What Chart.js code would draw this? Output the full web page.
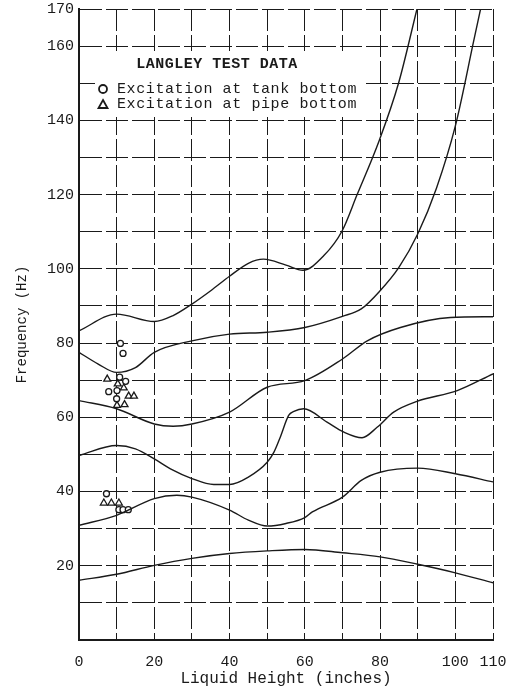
<!DOCTYPE html>
<html>
<head>
<meta charset="utf-8">
<script src="https://cdn.jsdelivr.net/npm/chart.js@4.4.1/dist/chart.umd.min.js"></script>
<style>
  html, body { margin: 0; padding: 0; background: #fff; }
</style>
</head>
<body>
<canvas id="chart" width="514" height="688"></canvas>
<script>
// curves: x = liquid height (in), y = frequency (Hz)
const mode1X = [0, 10, 20, 30, 40, 50, 60, 70, 80, 90, 100, 110];
const mode1Y = [16.1, 17.7, 20.1, 22, 23.3, 24, 24.4, 23.5, 22.4, 20.4, 18.1, 15.4];

const mode2X = [0, 10, 20, 26, 30, 40, 45, 50, 55, 60, 62, 70, 75, 80, 90, 100, 110];
const mode2Y = [30.9, 33.6, 38.1, 39, 38.5, 35, 32.3, 30.7, 31.4, 33, 34.5, 38.5, 43, 45.2, 46.3, 44.8, 42.6];

const mode3X = [0, 10, 15, 20, 24.3, 30, 35.8, 40, 45, 50, 51.8, 53.5, 55.7, 57.1, 59.7, 65.9, 70.4, 75.2, 79.2, 83.6, 89.8, 100.5, 110];
const mode3Y = [49.7, 52.4, 51.5, 48.8, 46.1, 43.5, 41.9, 41.9, 43.9, 47.9, 50.6, 54.7, 60.5, 61.6, 62.3, 58.7, 56, 54.5, 57.3, 61.4, 64.3, 67.2, 71.7];

const mode4X = [0, 10, 20, 25, 30, 40, 50, 60, 70, 76.6, 85.4, 98.7, 110];
const mode4Y = [64.5, 62.3, 58.2, 57.6, 58.2, 61.4, 68.1, 69.9, 75.7, 80.6, 84.2, 86.9, 87.1];

const mode5X = [0, 5, 10, 15, 20, 30, 40, 50, 60, 70, 75, 80, 85, 90, 95, 100, 105, 106.7];
const mode5Y = [77.5, 74.4, 72.1, 73.4, 77.5, 80.6, 82.4, 82.9, 84.2, 87.2, 89.2, 94.1, 100.4, 109.4, 121.8, 138.5, 162, 170];

const mode6X = [0, 10, 20, 25, 30, 35, 40, 45, 49, 55, 59.5, 65, 69.9, 73.9, 79.7, 84.9, 89.8];
const mode6Y = [83.3, 87.8, 85.8, 87.4, 90.5, 94.1, 98, 101.5, 102.6, 101, 99.6, 103.5, 110.2, 120, 134.4, 150, 170];

// test points
const tankX = [11.0, 11.7, 10.8, 12.4, 7.9, 10.1, 10.0, 7.3, 10.6, 11.7, 13.1];
const tankY = [79.9, 77.2, 70.8, 69.7, 66.9, 67.2, 65.0, 39.4, 35.1, 35.1, 35.1];
const pipeX = [7.5, 10.3, 11.9, 13.2, 14.6, 10.1, 12.1, 6.6, 8.6, 10.6];
const pipeY = [70.3, 69.0, 67.9, 65.7, 65.7, 63.2, 63.4, 36.9, 36.9, 36.9];

const xTickLabels = [0, 20, 40, 60, 80, 100, 110];
const yTickLabels = [20, 40, 60, 80, 100, 120, 140, 160, 170];

const FONT = '"Liberation Mono", "DejaVu Sans Mono", monospace';
const INK = '#1a1a1a';

const pts = (xs, ys) => xs.map((x, i) => ({ x, y: ys[i] }));
const curve = (xs, ys) => ({
  data: pts(xs, ys), showLine: true, borderColor: INK, borderWidth: 1.4,
  pointRadius: 0, fill: false, cubicInterpolationMode: 'monotone'
});

const legendBox = {
  id: 'legendBox',
  beforeDatasetsDraw(chart) {
    const { ctx, chartArea: a } = chart;
    ctx.save();
    ctx.fillStyle = '#fff';
    ctx.fillRect(a.left + 16, a.top + 42, 270, 66);
    ctx.fillStyle = INK;
    ctx.textBaseline = 'middle';
    ctx.letterSpacing = '0.5px';
    ctx.font = 'bold 15px ' + FONT;
    ctx.textAlign = 'center';
    ctx.fillText('LANGLEY TEST DATA', a.left + 138, a.top + 55);
    ctx.letterSpacing = '0.6px';
    ctx.font = '15px ' + FONT;
    ctx.textAlign = 'left';
    ctx.fillText('Excitation at tank bottom', a.left + 38, a.top + 80);
    ctx.fillText('Excitation at pipe bottom', a.left + 38, a.top + 95);
    ctx.strokeStyle = INK;
    ctx.lineWidth = 1.8;
    ctx.beginPath();
    ctx.arc(a.left + 24, a.top + 80, 4, 0, Math.PI * 2);
    ctx.stroke();
    ctx.beginPath();
    ctx.moveTo(a.left + 24, a.top + 91);
    ctx.lineTo(a.left + 28.5, a.top + 99);
    ctx.lineTo(a.left + 19.5, a.top + 99);
    ctx.closePath();
    ctx.stroke();
    ctx.restore();
  }
};

new Chart(document.getElementById('chart'), {
  type: 'scatter',
  data: {
    datasets: [
      curve(mode1X, mode1Y),
      curve(mode2X, mode2Y),
      curve(mode3X, mode3Y),
      curve(mode4X, mode4Y),
      curve(mode5X, mode5Y),
      curve(mode6X, mode6Y),
      { data: pts(tankX, tankY), pointStyle: 'circle', pointRadius: 3, pointBackgroundColor: '#fff', pointBorderColor: INK, pointBorderWidth: 1.3 },
      { data: pts(pipeX, pipeY), pointStyle: 'triangle', pointRadius: 4, pointBackgroundColor: '#fff', pointBorderColor: INK, pointBorderWidth: 1.3 }
    ]
  },
  options: {
    responsive: false,
    animation: false,
    layout: { padding: { top: 9, right: 21, left: 0, bottom: 0 } },
    plugins: { legend: { display: false }, tooltip: { enabled: false } },
    scales: {
      x: {
        type: 'linear', min: 0, max: 110,
        afterFit: s => { s.height = 48; s.paddingLeft = 0; s.paddingRight = 0; },
        grid: { color: INK, lineWidth: 1, drawTicks: false },
        border: { display: true, color: INK, width: 2, dash: [22, 4] },
        ticks: {
          stepSize: 10, padding: 13, color: INK, autoSkip: false, maxRotation: 0,
          font: { family: FONT, size: 15 },
          callback: v => xTickLabels.includes(v) ? v : ''
        },
        title: { display: true, text: 'Liquid Height (inches)', color: INK, font: { family: FONT, size: 16 }, padding: { top: 0, bottom: 0 } }
      },
      y: {
        type: 'linear', min: 0, max: 170,
        afterFit: s => { s.width = 79; s.paddingTop = 0; s.paddingBottom = 0; },
        grid: { color: INK, lineWidth: 1, drawTicks: false },
        border: { display: true, color: INK, width: 2, dash: [22, 4] },
        ticks: {
          stepSize: 10, padding: 5, color: INK, autoSkip: false,
          font: { family: FONT, size: 15 },
          callback: v => yTickLabels.includes(v) ? v : ''
        },
        title: { display: true, text: 'Frequency (Hz)', color: INK, font: { family: FONT, size: 14 }, padding: { top: 14, bottom: 0 } }
      }
    }
  },
  plugins: [legendBox]
});
</script>
</body>
</html>
